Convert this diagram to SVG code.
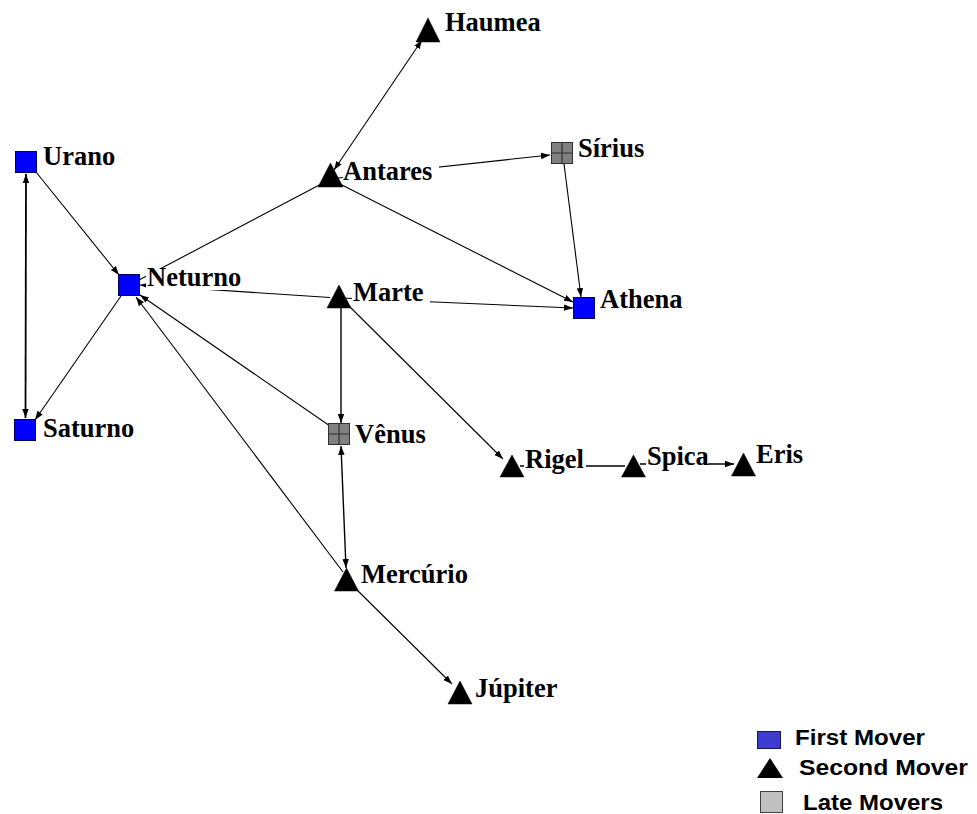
<svg xmlns="http://www.w3.org/2000/svg" width="977" height="814" viewBox="0 0 977 814">
<defs>
<marker id="arr" markerUnits="userSpaceOnUse" markerWidth="10" markerHeight="8" refX="9" refY="4" orient="auto-start-reverse">
<path d="M0,0.8 L9,4 L0,7.2 Z" fill="#000"/>
</marker>
<style>
.e{stroke:#000;stroke-width:1.1;fill:none}
.t{stroke-width:1.4}
.tt{stroke-width:1.8}
.a{marker-end:url(#arr)}
.b{marker-start:url(#arr);marker-end:url(#arr)}
.lbl{font-family:"Liberation Serif","Times New Roman",serif;font-weight:bold;font-size:26.5px;fill:#000}
.bg{fill:#fff}
.first{fill:#0000ff;stroke:#00005a;stroke-width:1}
.second{fill:#000;stroke:#000;stroke-width:0.5}
.late{fill:#808080;stroke:#303030;stroke-width:1}
.lg{font-family:"Liberation Sans",Arial,sans-serif;font-weight:bold;font-size:22px;fill:#000}
</style>
</defs>
<rect width="977" height="814" fill="#fff"/>
<g id="connectors">
<line class="e tt b" x1="26" y1="174" x2="25.5" y2="418"/>
<line class="e a" x1="36" y1="172" x2="119" y2="275"/>
<line class="e a" x1="121" y1="296" x2="35" y2="420"/>
<line class="e" x1="139" y1="280" x2="325" y2="182"/>
<line class="e b" x1="334" y1="170" x2="422" y2="40"/>
<line class="e a" x1="338" y1="178" x2="550" y2="155"/>
<line class="e a" x1="336" y1="182" x2="573" y2="302"/>
<line class="e a" x1="564" y1="164" x2="581" y2="297"/>
<line class="e a" x1="342" y1="298" x2="573" y2="308"/>
<line class="e a" x1="330" y1="297.5" x2="140" y2="285"/>
<line class="e a" x1="330" y1="426" x2="140" y2="295"/>
<line class="e a" x1="343" y1="572" x2="136" y2="297"/>
<line class="e t a" x1="341" y1="308" x2="341" y2="423"/>
<line class="e t b" x1="341" y1="446" x2="346" y2="568"/>
<line class="e a" x1="350" y1="583" x2="452" y2="684"/>
<line class="e a" x1="345" y1="302" x2="503" y2="459"/>
<line class="e t" x1="520" y1="466" x2="625" y2="466"/>
<line class="e t a" x1="640" y1="464" x2="734" y2="464"/>
</g>
<g id="node-urano">
<rect class="first" x="15.5" y="151.5" width="21" height="21"/>
<rect class="bg" x="42" y="147" width="74" height="22"/>
<text class="lbl" x="43" y="165">Urano</text>
</g>
<g id="node-neturno">
<rect class="first" x="118.5" y="274.5" width="21" height="21"/>
<rect class="bg" x="146" y="268" width="96" height="22"/>
<text class="lbl" x="147" y="286">Neturno</text>
</g>
<g id="node-saturno">
<rect class="first" x="14.5" y="419.5" width="21" height="21"/>
<rect class="bg" x="42" y="419" width="93" height="22"/>
<text class="lbl" x="43" y="437">Saturno</text>
</g>
<g id="node-haumea">
<polygon class="second" points="428,18 440,42 416,42"/>
<rect class="bg" x="444" y="13" width="98" height="22"/>
<text class="lbl" x="445" y="31">Haumea</text>
</g>
<g id="node-antares">
<polygon class="second" points="330.5,163 343,187 318,187"/>
<rect class="bg" x="343" y="162" width="96" height="22"/>
<text class="lbl" x="343" y="180">Antares</text>
</g>
<g id="node-sirius">
<rect class="late" x="551.5" y="142.5" width="21" height="21"/>
<path d="M562,142.5 V163.5 M551.5,153 H572.5" stroke="#303030" stroke-width="1.2"/>
<rect class="bg" x="577" y="139" width="70" height="22"/>
<text class="lbl" x="578" y="157">Sírius</text>
</g>
<g id="node-athena">
<rect class="first" x="573.5" y="297.5" width="21" height="21"/>
<rect class="bg" x="599" y="290" width="88" height="22"/>
<text class="lbl" x="600" y="308">Athena</text>
</g>
<g id="node-marte">
<polygon class="second" points="339,285 351,308 327,308"/>
<rect class="bg" x="352" y="283" width="78" height="22"/>
<text class="lbl" x="353" y="301">Marte</text>
</g>
<g id="node-venus">
<rect class="late" x="328.5" y="423.5" width="21" height="21"/>
<path d="M339,423.5 V444.5 M328.5,434 H349.5" stroke="#303030" stroke-width="1.2"/>
<rect class="bg" x="354" y="425" width="74" height="22"/>
<text class="lbl" x="355" y="443">Vênus</text>
</g>
<g id="node-rigel">
<polygon class="second" points="512,455 524,477 500,477"/>
<rect class="bg" x="524" y="450" width="62" height="22"/>
<text class="lbl" x="525" y="468">Rigel</text>
</g>
<g id="node-spica">
<polygon class="second" points="633.5,455 645.5,477 621.5,477"/>
<rect class="bg" x="646" y="447" width="62" height="22"/>
<text class="lbl" x="647" y="465">Spica</text>
</g>
<g id="node-eris">
<polygon class="second" points="743.5,453 755.5,476 731.5,476"/>
<rect class="bg" x="755" y="445" width="52" height="22"/>
<text class="lbl" x="756" y="463">Eris</text>
</g>
<g id="node-mercurio">
<polygon class="second" points="346.5,568 358.5,591 334.5,591"/>
<rect class="bg" x="360" y="565" width="110" height="22"/>
<text class="lbl" x="361" y="583">Mercúrio</text>
</g>
<g id="node-jupiter">
<polygon class="second" points="460,681 472,704 448,704"/>
<rect class="bg" x="474" y="679" width="96" height="22"/>
<text class="lbl" x="475" y="697">Júpiter</text>
</g>
<g id="legend">
<rect x="757.5" y="731.5" width="23" height="17" fill="#3c3cd0" stroke="#1a1a50" stroke-width="1"/>
<text class="lg" x="795" y="745" textLength="130" lengthAdjust="spacingAndGlyphs">First Mover</text>
<polygon points="770,758 783,778 757,778" fill="#000"/>
<text class="lg" x="799" y="775" textLength="169" lengthAdjust="spacingAndGlyphs">Second Mover</text>
<rect x="760.5" y="791.5" width="22" height="21" fill="#c0c0c0" stroke="#404040" stroke-width="1"/>
<text class="lg" x="803" y="810" textLength="140" lengthAdjust="spacingAndGlyphs">Late Movers</text>
</g>
</svg>
